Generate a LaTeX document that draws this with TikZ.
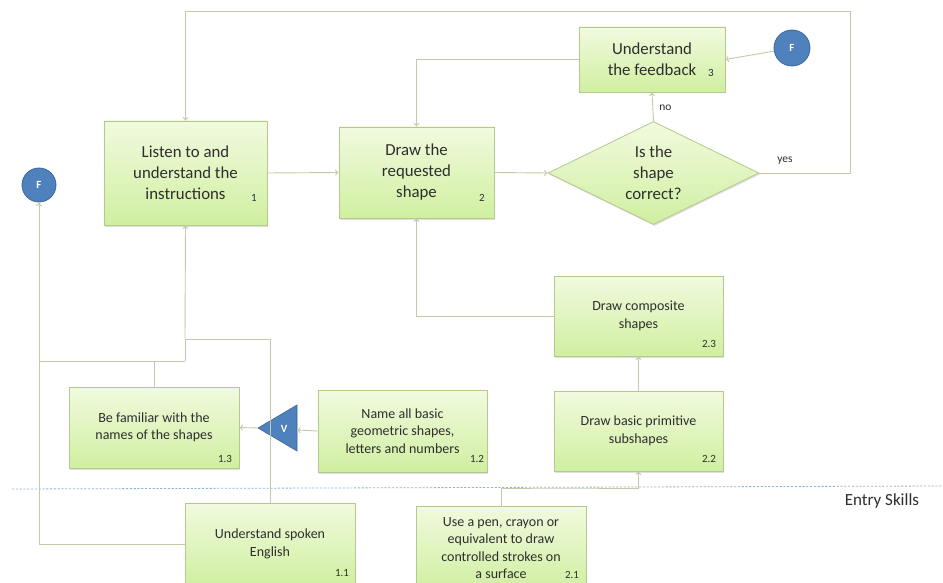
\documentclass[tikz,border=0pt]{standalone}
\usepackage{fontspec}
\setmainfont{Carlito}
\usetikzlibrary{arrows.meta,shapes.geometric,shadows}
\definecolor{linec}{HTML}{C6C9A8}
\definecolor{boxborder}{HTML}{B3C98D}
\definecolor{boxtop}{HTML}{F1FADF}
\definecolor{boxbot}{HTML}{D0EFA0}
\definecolor{txt}{HTML}{2E2E2E}
\definecolor{fblue}{HTML}{4F81BD}
\definecolor{fblueb}{HTML}{3B679A}
\definecolor{dashc}{HTML}{8FB6D3}
\tikzset{
  greenbox/.style={draw=boxborder, line width=0.8pt, top color=boxtop, bottom color=boxbot,
    align=center, text=txt, inner sep=2pt,
    drop shadow={opacity=0.25, shadow xshift=1pt, shadow yshift=-1.5pt}},
  bigbox/.style={greenbox, font=\fontsize{16.8}{21}\selectfont},
  smallbox/.style={greenbox, font=\fontsize{14}{17.5}\selectfont},
  numlab/.style={text=txt, font=\fontsize{11}{12}\selectfont, inner sep=0},
  conn/.style={draw=linec, line width=0.9pt},
  arr/.style={conn, -{To[length=3.5pt,width=6pt]}},
  fcirc/.style={circle, fill=fblue, draw=fblueb, line width=0.8pt, text=white,
    font=\fontsize{11}{12}\selectfont\bfseries, inner sep=0},
  edgelab/.style={text=txt, font=\fontsize{11.5}{12}\selectfont, inner sep=0}
}
\begin{document}
\begin{tikzpicture}[x=1pt,y=-1pt]
\useasboundingbox[fill=white] (0,0) rectangle (943,583);

% dashed entry skills line
\draw[dashc, line width=0.8pt, dash pattern=on 2.2pt off 1.6pt] (12,489) -- (943,486);
\node[text=txt, font=\fontsize{17}{19}\selectfont, inner sep=0] (entry) at (882,501) {Entry Skills};

% main nodes
\node[bigbox, minimum width=163pt, minimum height=104pt] (b1) at (185.5,173) {Listen to and\\understand the\\instructions};
\node[bigbox, minimum width=155pt, minimum height=91pt] (b2) at (416.5,172.5) {Draw the\\requested\\shape};
\node[bigbox, minimum width=146pt, minimum height=65pt] (b3) at (652,59.5) {Understand\\the feedback};
\node[diamond, aspect=2, inner sep=0, draw=boxborder, line width=0.8pt, top color=boxtop, bottom color=boxbot,
  text=txt, align=center, font=\fontsize{16.8}{21}\selectfont,
  minimum width=211pt, minimum height=103pt,
  drop shadow={opacity=0.25, shadow xshift=1pt, shadow yshift=-1.5pt}] (dia) at (653.5,173) {Is the\\shape\\correct?};

\node[smallbox, minimum width=169pt, minimum height=80pt] (b23) at (638.5,316) {Draw composite\\shapes};
\node[smallbox, minimum width=169pt, minimum height=80pt] (b22) at (638.5,431) {Draw basic primitive\\subshapes};
\node[smallbox, minimum width=169pt, minimum height=82pt] (b12) at (402.5,431) {Name all basic\\geometric shapes,\\letters and numbers};
\node[smallbox, minimum width=170pt, minimum height=81pt] (b13) at (154,427.5) {Be familiar with the\\names of the shapes};
\node[smallbox, minimum width=170pt, minimum height=82pt] (b11) at (270,544) {Understand spoken\\English};
\node[smallbox, minimum width=170pt, minimum height=84pt] (b21) at (501,548) {Use a pen, crayon or\\equivalent to draw\\controlled strokes on\\a surface};

% number labels
\node[numlab] (n1) at (254,198) {1};
\node[numlab] (n2) at (482,198) {2};
\node[numlab] (n3) at (711,73) {3};
\node[numlab] (n23) at (709,344) {2.3};
\node[numlab] (n22) at (709,459) {2.2};
\node[numlab] (n12) at (477,459) {1.2};
\node[numlab] (n13) at (225,459) {1.3};
\node[numlab] (n11) at (342,573) {1.1};
\node[numlab] (n21) at (572,575) {2.1};

% F circles
\node[fcirc, minimum size=36pt] (Fr) at (792,48) {F};
\node[fcirc, minimum size=34pt] (Fl) at (39,185) {F};

% V triangle
\coordinate (Va) at (258,428);
\coordinate (Vb) at (297,430);
\path[fill=fblue, draw=fblueb, line width=0.6pt] (258,428) -- (297,405) -- (297,451) -- cycle;

% connectors
\draw[conn] (b11.north) |- (185,339) -- (185,361);
\draw[arr] (185,339) -- (b1.south);
\draw[conn] (b13.north) -- (154,361);
\draw[conn] (40,361) -- (185,361);
\draw[arr] (b11.west) -| (Fl.south);
\draw[arr] (b12.west) -- (Vb);
\draw[arr] (Va) -- (b13.east);
\node[text=white, font=\fontsize{11}{12}\selectfont\bfseries, inner sep=0] (V) at (284,429) {V};

\draw[arr] (b1.east) -- (b2.west);
\draw[arr] (b2.east) -- (dia.west);
\draw[arr] (dia.north) -- (b3.south) node[edgelab, pos=0.45, right=6pt] (nolab) {no};
\draw[arr] (dia.east) -- (850,173) -- (850,11) -| (b1.north);
\node[edgelab] (yeslab) at (785,161) {yes};
\draw[arr] (b3.west) -| (b2.north);
\draw[arr] (Fr) -- (b3.east);
\draw[arr] (b23.west) -| (b2.south);
\draw[arr] (b22.north) -- (b23.south);
\draw[arr] (b21.north) |- (560,488) -| (b22.south);
\end{tikzpicture}
\end{document}
